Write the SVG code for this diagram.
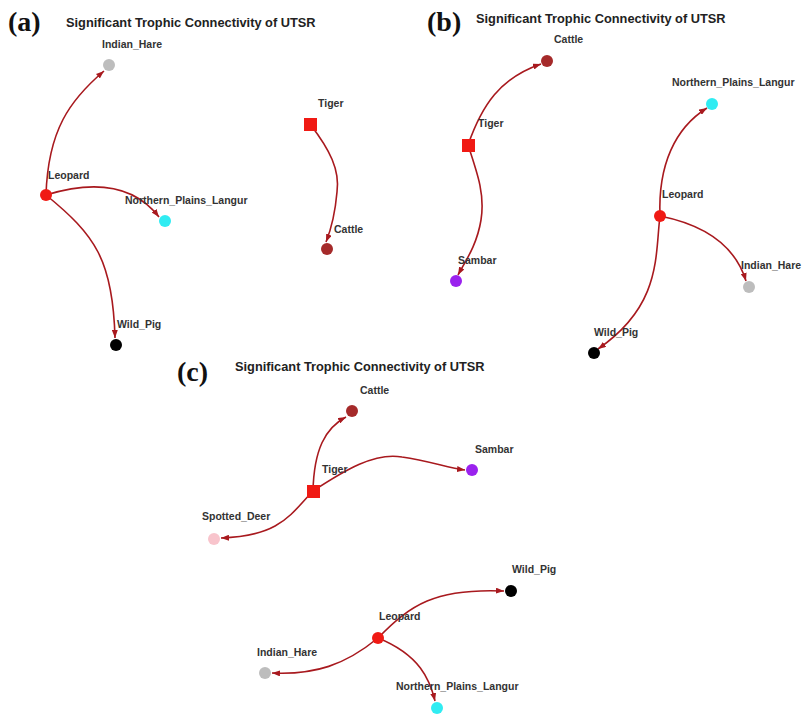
<svg xmlns="http://www.w3.org/2000/svg" width="802" height="715" viewBox="0 0 802 715">
<style>
.bg{fill:#fff}
.panel{font-family:"Liberation Serif","Times New Roman",serif;font-weight:bold;font-size:28px;fill:#111}
.title{font-family:"Liberation Sans",Arial,sans-serif;font-weight:bold;font-size:12.8px;fill:#222}
.lbl{font-family:"Liberation Sans",Arial,sans-serif;font-weight:bold;font-size:10.5px;fill:#333}
.edge{fill:none;stroke:#a8191e;stroke-width:1.6}
.leo{fill:#f01a14}
.tig{fill:#f01a14}
.cat{fill:#a52a2a}
.npl{fill:#30ecf2}
.hare{fill:#bdbdbd}
.pig{fill:#000}
.sam{fill:#9a22ee}
.deer{fill:#f8c4cc}
</style>
<defs>
<marker id="arr" markerUnits="userSpaceOnUse" markerWidth="8" markerHeight="6" refX="8" refY="3" orient="auto">
<path d="M0,0 L8,3 L0,6 z" fill="#a8191e"/>
</marker>
</defs>
<rect class="bg" x="0" y="0" width="802" height="715"/>
<g id="headings">
<text class="panel" x="8" y="31">(a)</text>
<text class="title" x="66" y="27">Significant Trophic Connectivity of UTSR</text>
<text class="panel" x="427" y="31">(b)</text>
<text class="title" x="476" y="23">Significant Trophic Connectivity of UTSR</text>
<text class="panel" x="177" y="381">(c)</text>
<text class="title" x="235" y="371">Significant Trophic Connectivity of UTSR</text>
</g>
<g id="connectors">
<path class="edge" marker-end="url(#arr)" d="M46,195 C48,130 70,100 104,71"/>
<path class="edge" marker-end="url(#arr)" d="M46,195 C85,183 130,180 159,217"/>
<path class="edge" marker-end="url(#arr)" d="M46,195 C95,235 113,260 115,338"/>
<path class="edge" marker-end="url(#arr)" d="M310,124 C330,150 340,170 337,192 C335,215 330,232 326,242"/>
<path class="edge" marker-end="url(#arr)" d="M468,145 C482,105 500,78 541,64"/>
<path class="edge" marker-end="url(#arr)" d="M468,145 C478,175 485,195 481,220 C477,245 465,262 458,275"/>
<path class="edge" marker-end="url(#arr)" d="M660,216 C658,165 675,128 707,108"/>
<path class="edge" marker-end="url(#arr)" d="M660,216 C705,225 735,245 746,281"/>
<path class="edge" marker-end="url(#arr)" d="M660,216 C655,255 662,305 598,349"/>
<path class="edge" marker-end="url(#arr)" d="M313,491 C314,450 325,428 346,417"/>
<path class="edge" marker-end="url(#arr)" d="M313,491 C345,470 375,452 402,457 C430,461 448,468 465,470"/>
<path class="edge" marker-end="url(#arr)" d="M313,491 C290,515 280,536 221,538"/>
<path class="edge" marker-end="url(#arr)" d="M378,638 C410,605 435,588 504,591"/>
<path class="edge" marker-end="url(#arr)" d="M378,638 C345,665 315,675 272,673"/>
<path class="edge" marker-end="url(#arr)" d="M378,638 C420,655 430,680 435,701"/>
</g>
<g id="a-leopard"><circle class="leo" cx="46" cy="195" r="6"/><text class="lbl" x="48" y="179">Leopard</text></g>
<g id="a-indian-hare"><circle class="hare" cx="109" cy="65" r="6"/><text class="lbl" x="102" y="48">Indian_Hare</text></g>
<g id="a-npl"><circle class="npl" cx="165" cy="221" r="6"/><text class="lbl" x="125" y="204">Northern_Plains_Langur</text></g>
<g id="a-wild-pig"><circle class="pig" cx="116" cy="345" r="6"/><text class="lbl" x="117" y="328">Wild_Pig</text></g>
<g id="a-tiger"><rect class="tig" x="304" y="118" width="13" height="13"/><text class="lbl" x="318" y="107">Tiger</text></g>
<g id="a-cattle"><circle class="cat" cx="327" cy="249" r="6"/><text class="lbl" x="334" y="233">Cattle</text></g>
<g id="b-cattle"><circle class="cat" cx="547" cy="61" r="6"/><text class="lbl" x="554" y="43">Cattle</text></g>
<g id="b-npl"><circle class="npl" cx="712" cy="104" r="6"/><text class="lbl" x="672" y="86">Northern_Plains_Langur</text></g>
<g id="b-tiger"><rect class="tig" x="462" y="139" width="13" height="13"/><text class="lbl" x="478" y="127">Tiger</text></g>
<g id="b-leopard"><circle class="leo" cx="660" cy="216" r="6"/><text class="lbl" x="662" y="198">Leopard</text></g>
<g id="b-sambar"><circle class="sam" cx="456" cy="281" r="6"/><text class="lbl" x="458" y="264">Sambar</text></g>
<g id="b-indian-hare"><circle class="hare" cx="749" cy="287" r="6"/><text class="lbl" x="741" y="269">Indian_Hare</text></g>
<g id="b-wild-pig"><circle class="pig" cx="594" cy="353" r="6"/><text class="lbl" x="594" y="336">Wild_Pig</text></g>
<g id="c-cattle"><circle class="cat" cx="352" cy="411" r="6"/><text class="lbl" x="360" y="394">Cattle</text></g>
<g id="c-tiger"><rect class="tig" x="307" y="485" width="13" height="13"/><text class="lbl" x="322" y="473">Tiger</text></g>
<g id="c-sambar"><circle class="sam" cx="472" cy="470" r="6"/><text class="lbl" x="475" y="453">Sambar</text></g>
<g id="c-spotted-deer"><circle class="deer" cx="214" cy="539" r="6"/><text class="lbl" x="202" y="520">Spotted_Deer</text></g>
<g id="c-wild-pig"><circle class="pig" cx="511" cy="591" r="6"/><text class="lbl" x="512" y="573">Wild_Pig</text></g>
<g id="c-leopard"><circle class="leo" cx="378" cy="638" r="6"/><text class="lbl" x="379" y="620">Leopard</text></g>
<g id="c-indian-hare"><circle class="hare" cx="265" cy="673" r="6"/><text class="lbl" x="257" y="656">Indian_Hare</text></g>
<g id="c-npl"><circle class="npl" cx="437" cy="708" r="6"/><text class="lbl" x="396" y="690">Northern_Plains_Langur</text></g>
</svg>
